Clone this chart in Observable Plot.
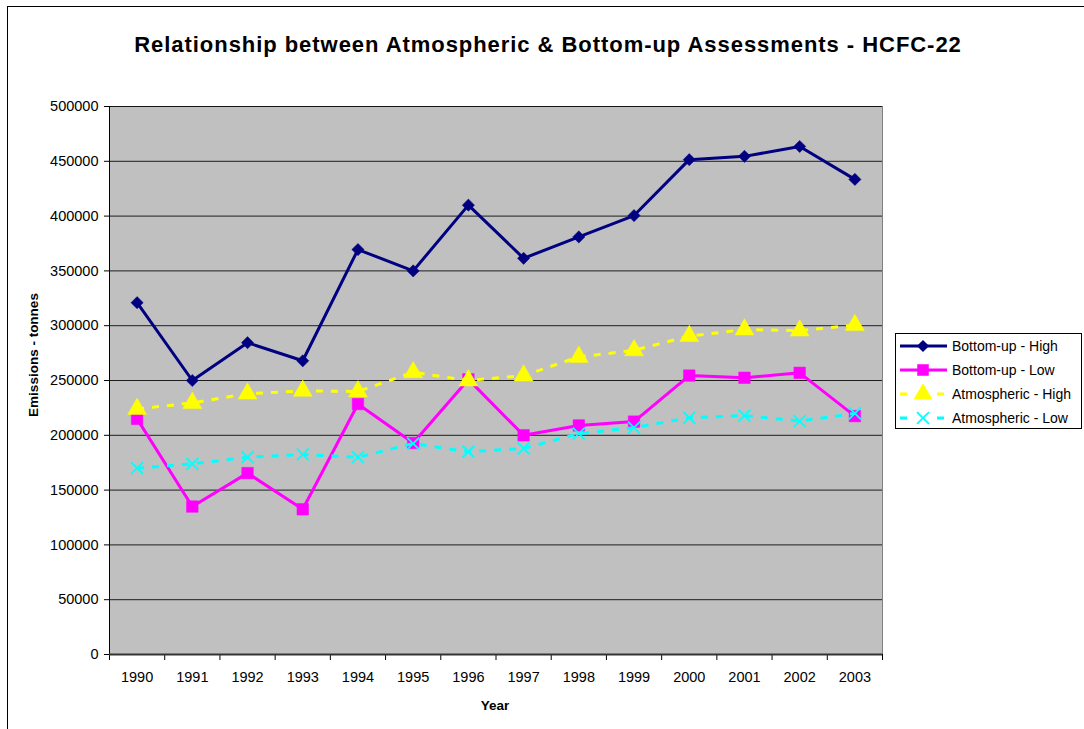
<!DOCTYPE html>
<html>
<head>
<meta charset="utf-8">
<script src="https://cdn.jsdelivr.net/npm/d3@7"></script>
<script src="https://cdn.jsdelivr.net/npm/@observablehq/plot@0.6"></script>
<style>
  html, body { margin: 0; padding: 0; background: #fff; }
  #wrap { position: relative; width: 1084px; height: 729px; overflow: hidden; font-family: "Liberation Sans", Arial, sans-serif; }
  #frame { position: absolute; left: 7px; top: 6px; width: 1200px; height: 900px; border-left: 1.5px solid #000; border-top: 1.5px solid #000; }
  #title { position: absolute; left: 548px; top: 45px; transform: translate(-50%, -50%); white-space: nowrap; font-weight: bold; font-size: 22px; letter-spacing: 0.95px; color: #000; }
  #ylabel { position: absolute; left: 33px; top: 355px; transform: translate(-50%, -50%) rotate(-90deg); font-weight: bold; font-size: 13.5px; white-space: nowrap; }
  #xlabel { position: absolute; left: 495px; top: 705px; transform: translate(-50%, -50%); font-weight: bold; font-size: 13.5px; }
  #chart { position: absolute; left: 0; top: 0; }
  #chart svg text { font-size: 14.5px !important; }
  #legend { position: absolute; left: 895px; top: 333px; width: 187px; height: 96px; border: 1px solid #000; background: #fff; box-sizing: border-box; padding-top: 0px; }
  .item { display: flex; align-items: center; height: 24px; font-size: 14px; }
  .item svg { margin-left: 1px; margin-right: 3px; }
</style>
</head>
<body>
<div id="wrap">
  <div id="frame"></div>
  <div id="chart"></div>
  <div id="title">Relationship between Atmospheric &amp; Bottom-up Assessments - HCFC-22</div>
  <div id="ylabel">Emissions - tonnes</div>
  <div id="xlabel">Year</div>
  <div id="legend"></div>
</div>
<script>
const years = [1990, 1991, 1992, 1993, 1994, 1995, 1996, 1997, 1998, 1999, 2000, 2001, 2002, 2003];
const bottomUpHigh = [321000, 250000, 284500, 268000, 369500, 350000, 410000, 361500, 381000, 400500, 451500, 454500, 463500, 433500];
const bottomUpLow = [215000, 135000, 165500, 132500, 228500, 193000, 251000, 200000, 209000, 212500, 254500, 252500, 257000, 217500];
const atmosHigh = [224000, 229500, 238000, 240500, 240000, 257500, 250000, 254500, 271500, 277500, 290500, 296500, 295500, 300500];
const atmosLow = [170000, 174000, 180000, 182500, 180000, 192500, 185000, 188000, 201500, 207000, 216000, 218000, 213000, 220000];
const yTicks = [0, 50000, 100000, 150000, 200000, 250000, 300000, 350000, 400000, 450000, 500000];

const seriesNames = ["Bottom-up - High", "Bottom-up - Low", "Atmospheric - High", "Atmospheric - Low"];
const seriesValues = [bottomUpHigh, bottomUpLow, atmosHigh, atmosLow];
const styles = [
  {color: "#000080", symbol: "diamond2", r: 5.5, dash: null},
  {color: "#FF00FF", symbol: "square", r: 6.5, dash: null},
  {color: "#FFFF00", symbol: "triangle", r: 7, dash: "7,8"},
  {color: "#00FFFF", symbol: "times", r: 5.5, dash: "7,8"}
];

const data = seriesNames.map((name, i) => years.map((year, j) => ({series: name, year, value: seriesValues[i][j]})));
const boundaries = years.map(y => y - 0.5).concat([years[years.length - 1] + 0.5]);

const marks = [
  Plot.frame({fill: "#C0C0C0", stroke: "#808080"}),
  Plot.gridY(yTicks, {stroke: "#000", strokeOpacity: 0.85, strokeWidth: 1}),
  Plot.axisY(yTicks, {tickSize: 5, tickPadding: 6, tickFormat: d3.format("d"), label: null, fontSize: 14}),
  Plot.axisX(years, {tickSize: 0, tickPadding: 17, tickFormat: d => String(d), label: null, fontSize: 14}),
  Plot.axisX(boundaries, {tickSize: 6, tickFormat: () => "", label: null}),
  Plot.ruleX([boundaries[0]], {stroke: "#000", strokeWidth: 1}),
  Plot.ruleY([0], {stroke: "#333", strokeWidth: 2})
];

data.forEach((rows, i) => {
  const s = styles[i];
  marks.push(Plot.line(rows, {x: "year", y: "value", stroke: s.color, strokeWidth: 3, strokeDasharray: s.dash, strokeLinecap: "butt"}));
  if (s.symbol === "times") {
    marks.push(Plot.dot(rows, {x: "year", y: "value", symbol: "times", r: s.r, stroke: s.color, strokeWidth: 1.8, fill: "none"}));
  } else {
    marks.push(Plot.dot(rows, {x: "year", y: "value", symbol: s.symbol, r: s.r, fill: s.color, stroke: s.color, strokeWidth: 0.5}));
  }
});

const chart = Plot.plot({
  width: 1084,
  height: 729,
  marginLeft: 109,
  marginRight: 202,
  marginTop: 106,
  marginBottom: 75,
  style: {fontFamily: "'Liberation Sans', Arial, sans-serif", fontSize: "14px", color: "#000", background: "transparent"},
  x: {type: "linear", domain: [1989.5, 2003.5]},
  y: {domain: [0, 500000]},
  marks
});
document.getElementById("chart").appendChild(chart);

// Legend
const legend = document.getElementById("legend");
seriesNames.forEach((name, i) => {
  const s = styles[i];
  const item = document.createElement("div");
  item.className = "item";
  const sw = d3.create("svg").attr("width", 52).attr("height", 20);
  sw.append("line").attr("x1", 3).attr("x2", 50).attr("y1", 10).attr("y2", 10)
    .attr("stroke", s.color).attr("stroke-width", 3)
    .attr("stroke-dasharray", s.dash ? "7,30" : null);
  const symMap = {diamond2: d3.symbolDiamond2, square: d3.symbolSquare, triangle: d3.symbolTriangle, times: d3.symbolTimes};
  const size = Math.PI * s.r * s.r;
  const p = sw.append("path").attr("transform", "translate(26,10)").attr("d", d3.symbol(symMap[s.symbol], size)());
  if (s.symbol === "times") p.attr("fill", "none").attr("stroke", s.color).attr("stroke-width", 1.8);
  else p.attr("fill", s.color);
  item.appendChild(sw.node());
  const t = document.createElement("span");
  t.textContent = name;
  item.appendChild(t);
  legend.appendChild(item);
});
</script>
</body>
</html>
